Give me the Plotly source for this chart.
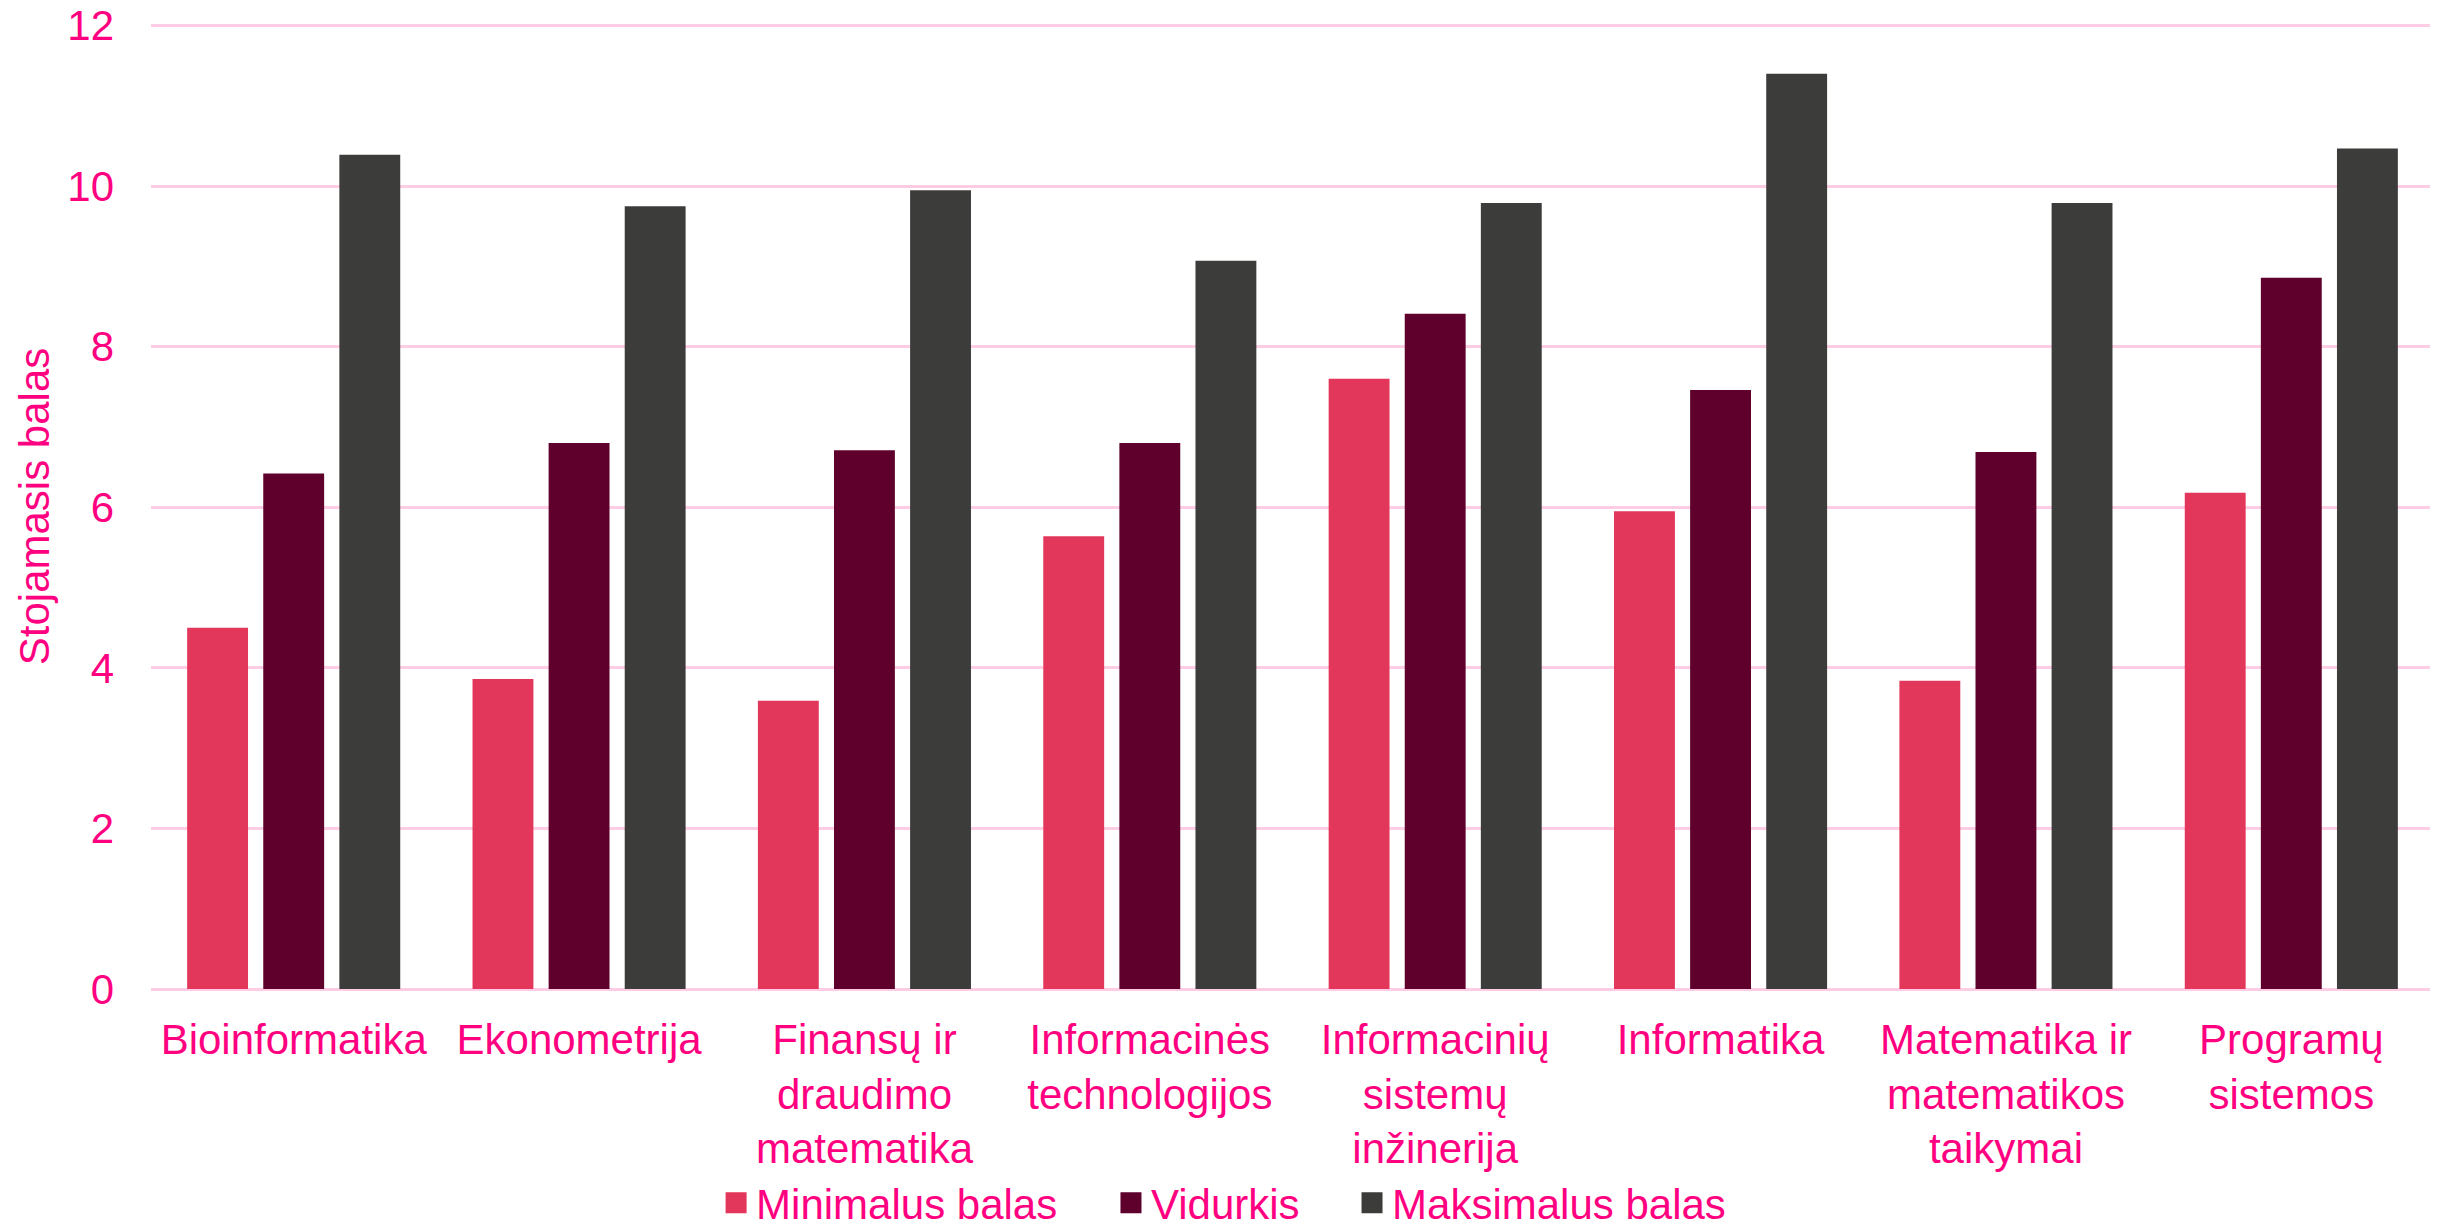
import plotly.graph_objects as go

categories = [
    "Bioinformatika",
    "Ekonometrija",
    "Finansų ir<br>draudimo<br>matematika",
    "Informacinės<br>technologijos",
    "Informacinių<br>sistemų<br>inžinerija",
    "Informatika",
    "Matematika ir<br>matematikos<br>taikymai",
    "Programų<br>sistemos",
]
series_names = ["Minimalus balas", "Vidurkis", "Maksimalus balas"]
min_vals = [4.50, 3.86, 3.59, 5.64, 7.60, 5.95, 3.84, 6.18]
avg_vals = [6.42, 6.80, 6.71, 6.80, 8.41, 7.46, 6.69, 8.86]
max_vals = [10.39, 9.75, 9.95, 9.07, 9.79, 11.40, 9.79, 10.47]
y_ticks = [0, 2, 4, 6, 8, 10, 12]

colors = ["#E2365B", "#5E002B", "#3C3C3A"]
text_color = "#FF0080"
grid_color = "#FFCCE5"
font_family = "Liberation Sans, Arial, sans-serif"

legend_ids = ["legend", "legend2", "legend3"]
legend_x = [0.2914, 0.4539, 0.5531]

fig = go.Figure()
for name, vals, col in zip(series_names, [min_vals, avg_vals, max_vals], colors):
    fig.add_trace(go.Bar(x=categories, y=vals, name=name, showlegend=False,
                         marker=dict(color=col, line=dict(width=0))))
# legend entries with larger square swatches, one legend per entry
for name, col, lid in zip(series_names, colors, legend_ids):
    fig.add_trace(go.Scatter(x=[None], y=[None], name=name, mode="markers",
                             marker=dict(symbol="square", size=16, color=col,
                                         line=dict(color=col, width=5)),
                             showlegend=True, hoverinfo="skip", legend=lid))

legend_common = dict(orientation="h", xref="container", yref="container",
                     xanchor="left", y=0.0205, yanchor="middle",
                     font=dict(size=42, color=text_color), itemsizing="trace",
                     itemwidth=30, bgcolor="rgba(0,0,0,0)", borderwidth=0)

fig.update_layout(
    width=2430, height=1220,
    margin=dict(l=143, r=4, t=16.4, b=239, autoexpand=False),
    plot_bgcolor="white", paper_bgcolor="white",
    barmode="group", bargap=0.2, bargroupgap=0.2,
    font=dict(family=font_family, size=42, color=text_color),
    showlegend=True,
    legend=dict(x=legend_x[0], **legend_common),
    legend2=dict(x=legend_x[1], **legend_common),
    legend3=dict(x=legend_x[2], **legend_common),
    xaxis=dict(showgrid=False, showline=False, ticks="", automargin=False,
               ticklabelstandoff=22, tickfont=dict(size=42, color=text_color)),
    yaxis=dict(range=[0, 12.02], tickvals=y_ticks, showgrid=True, gridcolor=grid_color,
               gridwidth=2.5, zeroline=True, zerolinecolor=grid_color, zerolinewidth=2.5,
               showline=False, ticks="", automargin=False, ticklabelstandoff=36,
               ticklabeloverflow="allow",
               tickfont=dict(size=42, color=text_color),
               title=dict(text="Stojamasis balas", standoff=4,
                          font=dict(size=42, color=text_color))),
)

fig.write_html("out.html")
